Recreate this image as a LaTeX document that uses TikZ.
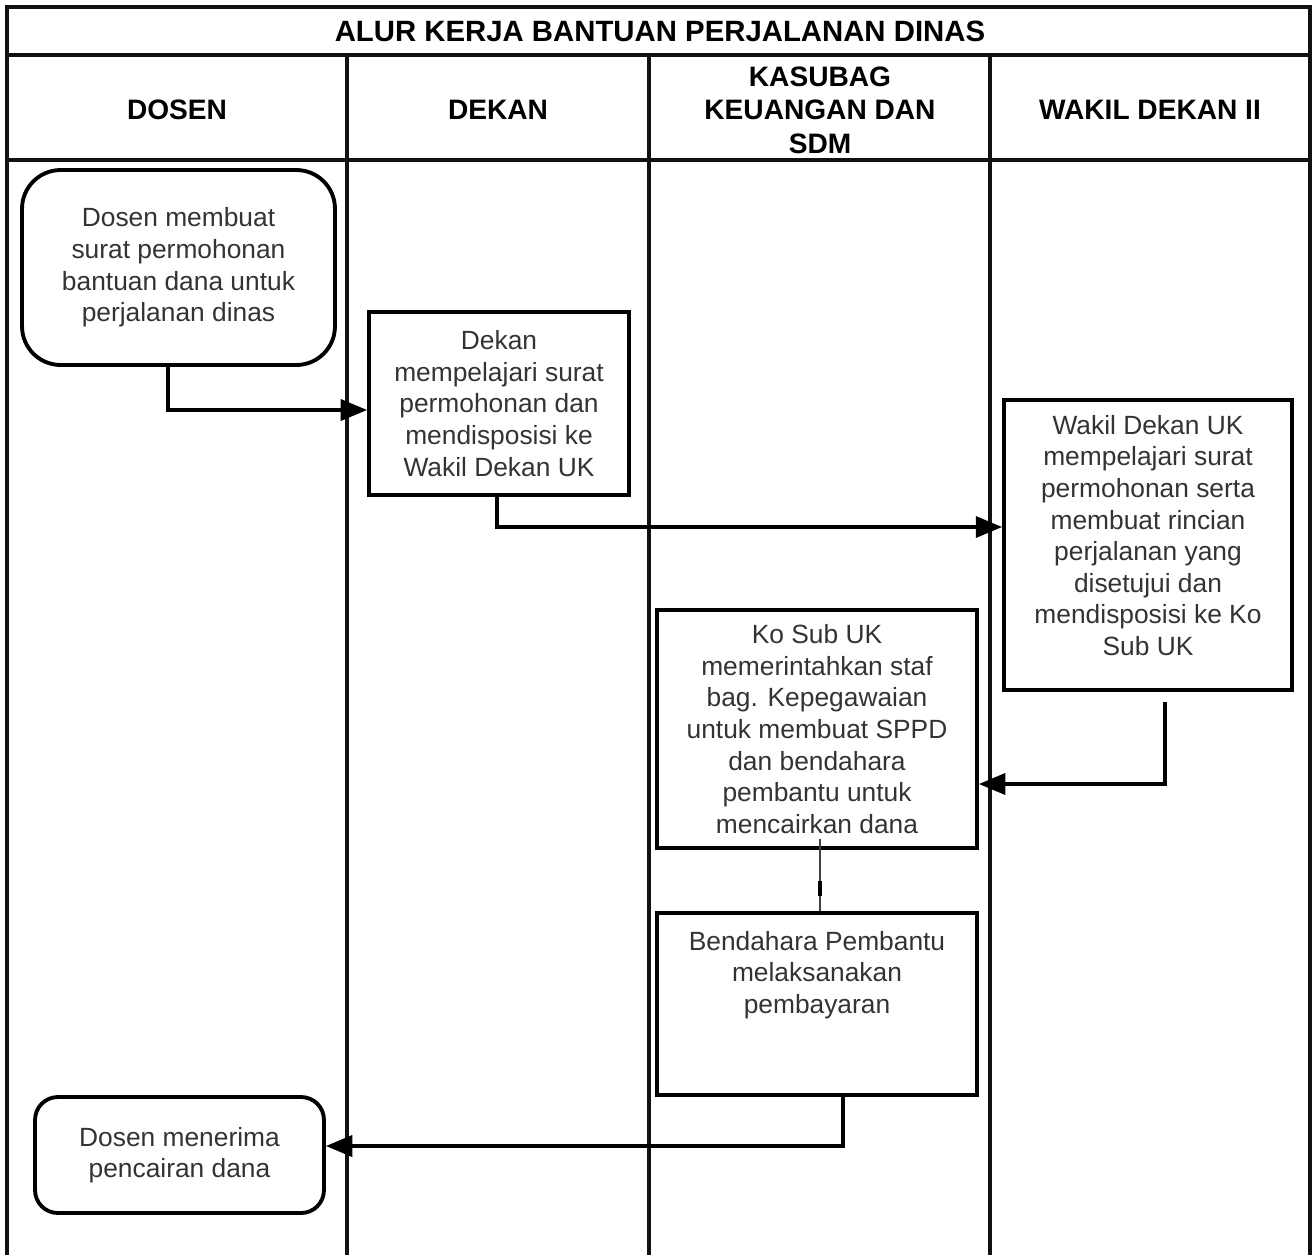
\documentclass[tikz,border=0pt]{standalone}
\usepackage{fontspec}
\setmainfont{Liberation Sans}
\definecolor{txtgray}{HTML}{333333}
\definecolor{laneblack}{HTML}{111111}
\usetikzlibrary{
  arrows.meta, positioning, calc, decorations.markings
}

\begin{document}
\begin{tikzpicture}[x=0.02cm, y=-0.02cm,
    lane/.style={draw=laneblack, line width=2.2pt},
    head/.style={font=\fontsize{16}{19}\selectfont\bfseries, align=center},
    stepbox/.style={draw, line width=2.2pt, align=center, text=txtgray,
                    font=\fontsize{15}{18}\selectfont, inner sep=0pt},
    endbox/.style={stepbox, rounded corners=#1},
    flow/.style={line width=1.9pt, -{Triangle[length=15pt,width=12pt]}}]
    \useasboundingbox (0,0) rectangle (1315,1255);

    % swimlanes
    \draw[lane] (7,1255) -- (7,7) -- (1310,7) -- (1310,1255);
    \draw[lane] (7,55) -- (1310,55);
    \draw[lane] (7,160) -- (1310,160);
    \foreach \x in {347,649,990} {
      \draw[lane] (\x,55) -- (\x,1255);
    }

    \node[head, font=\fontsize{16.7}{19}\selectfont\bfseries] (title) at (660,31)
      {ALUR KERJA BANTUAN PERJALANAN DINAS};
    \node[head] (hdosen) at (177,110) {DOSEN};
    \node[head] (hdekan) at (498,110) {DEKAN};
    \node[head] (hkasubag) at (820,110) {KASUBAG\\KEUANGAN DAN\\SDM};
    \node[head] (hwakil) at (1150,110) {WAKIL DEKAN II};

    % steps
    \node[endbox=22pt, minimum width=6.26cm, minimum height=3.9cm]
      (mohon) at (178.5,267.5)
      {Dosen membuat\\surat permohonan\\bantuan dana untuk\\perjalanan dinas};
    \node[stepbox, minimum width=5.2cm, minimum height=3.66cm]
      (dekan) at (499,403.5)
      {Dekan\\mempelajari surat\\permohonan dan\\mendisposisi ke\\Wakil Dekan UK};
    \node[stepbox, minimum width=5.76cm, minimum height=5.8cm]
      (wakil) at (1148,545)
      {Wakil Dekan UK\\mempelajari surat\\permohonan serta\\membuat rincian\\perjalanan yang\\disetujui dan\\mendisposisi ke Ko\\Sub UK\\[-7pt]\mbox{}};
    \node[stepbox, minimum width=6.4cm, minimum height=4.76cm]
      (kosub) at (817,729)
      {Ko Sub UK\\memerintahkan staf\\bag. Kepegawaian\\untuk membuat SPPD\\dan bendahara\\pembantu untuk\\mencairkan dana};
    \node[stepbox, minimum width=6.4cm, minimum height=3.64cm]
      (bayar) at (817,1004)
      {Bendahara Pembantu\\melaksanakan\\pembayaran\\\mbox{}\\\mbox{}};
    \node[endbox=13pt, minimum width=5.78cm, minimum height=2.32cm]
      (terima) at (179.5,1155)
      {Dosen menerima\\pencairan dana};

    % connectors
    \coordinate (b1) at (168,410);
    \coordinate (b2) at (497,527);
    \coordinate (b3) at (1165,784);
    \coordinate (b4) at (820,889);
    \coordinate (b5) at (843,1146);
    \draw[flow] (mohon.south -| b1) |- (dekan.west |- b1);
    \draw[flow] (dekan.south -| b2) |- (wakil.west |- b2);
    \draw[flow] ($(wakil.south -| b3)+(0,10)$) |- (kosub.east |- b3);
    \draw[line width=1.1pt, draw=black!75,
          decoration={markings, mark=at position 0.69 with
            {\draw[black, line width=2.3pt] (-4.2pt,0) -- (4.2pt,0);}},
          postaction={decorate}]
      ($(kosub.south -| b4)+(0,-11)$) -- (bayar.north -| b4);
    \draw[flow] (bayar.south -| b5) |- (terima.east |- b5);
\end{tikzpicture}
\end{document}
